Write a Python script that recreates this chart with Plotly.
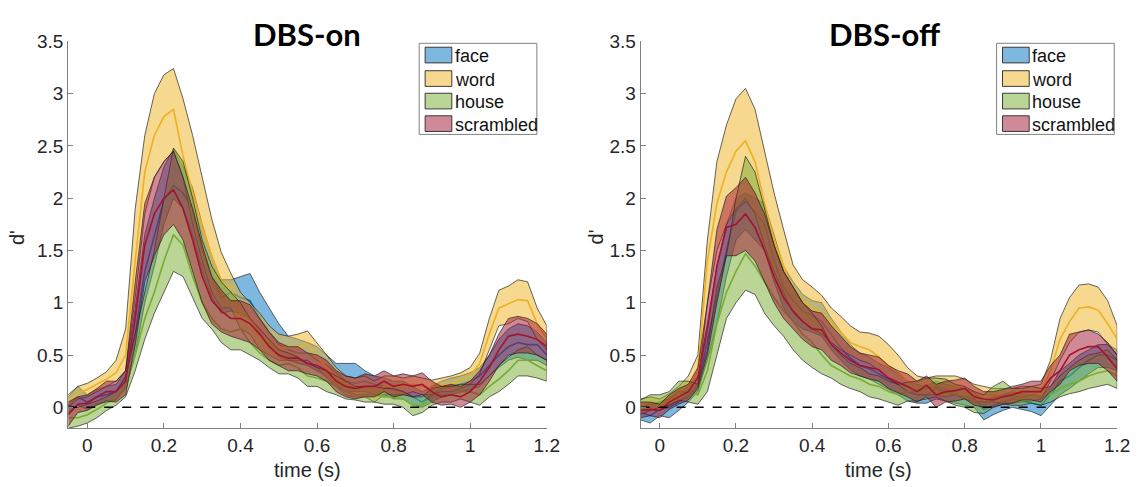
import plotly.graph_objects as go

# ---------------- data ----------------
time_s = [-0.05, -0.025, 0.0, 0.025, 0.05, 0.075, 0.1, 0.125, 0.15, 0.175,
          0.2, 0.225, 0.25, 0.275, 0.3, 0.325, 0.35, 0.375, 0.4, 0.425,
          0.45, 0.475, 0.5, 0.525, 0.55, 0.575, 0.6, 0.625, 0.65, 0.675,
          0.7, 0.725, 0.75, 0.775, 0.8, 0.825, 0.85, 0.875, 0.9, 0.925,
          0.95, 0.975, 1.0, 1.025, 1.05, 1.075, 1.1, 1.125, 1.15, 1.175, 1.2]

categories = ["face", "word", "house", "scrambled"]
panel_titles = ["DBS-on", "DBS-off"]
x_tick_vals = [0, 0.2, 0.4, 0.6, 0.8, 1.0, 1.2]
x_tick_text = ["0", "0.2", "0.4", "0.6", "0.8", "1", "1.2"]
y_tick_vals = [0, 0.5, 1, 1.5, 2, 2.5, 3, 3.5]
y_tick_text = ["0", "0.5", "1", "1.5", "2", "2.5", "3", "3.5"]

# ---- DBS-on ----
on_face_mean = [0.02, 0.1, 0.05, 0.1, 0.12, 0.15, 0.28, 0.7, 1.3, 1.65, 1.98, 2.12, 2.05, 1.9, 1.5, 1.25, 1.05, 1.1, 1.05, 1.02,
                0.85, 0.72, 0.6, 0.55, 0.52, 0.52, 0.45, 0.4, 0.33, 0.25, 0.23, 0.25, 0.22, 0.2, 0.17, 0.15, 0.1, 0.05, 0.12, 0.18,
                0.2, 0.22, 0.25, 0.3, 0.4, 0.5, 0.58, 0.62, 0.6, 0.6, 0.5]
on_face_lo = [-0.05, 0.02, -0.02, 0.03, 0.05, 0.07, 0.18, 0.5, 1.0, 1.35, 1.75, 2.0, 1.9, 1.65, 1.3, 1.05, 0.9, 0.92, 0.9, 0.85,
              0.7, 0.58, 0.48, 0.45, 0.42, 0.4, 0.35, 0.3, 0.22, 0.15, 0.15, 0.15, 0.12, 0.12, 0.08, 0.08, 0.02, 0.0, 0.05, 0.1,
              0.12, 0.15, 0.17, 0.2, 0.3, 0.38, 0.45, 0.48, 0.45, 0.45, 0.4]
on_face_hi = [0.1, 0.2, 0.12, 0.17, 0.2, 0.22, 0.35, 0.95, 1.65, 2.0, 2.3, 2.47, 2.3, 2.1, 1.75, 1.45, 1.22, 1.22, 1.25, 1.28,
              1.1, 0.95, 0.8, 0.68, 0.65, 0.62, 0.58, 0.5, 0.42, 0.42, 0.42, 0.35, 0.3, 0.28, 0.25, 0.25, 0.2, 0.15, 0.2, 0.25,
              0.28, 0.3, 0.33, 0.38, 0.5, 0.65, 0.75, 0.8, 0.78, 0.72, 0.62]

on_word_mean = [0.05, 0.14, 0.17, 0.22, 0.27, 0.33, 0.5, 1.4, 2.25, 2.6, 2.78, 2.85, 2.4, 2.05, 1.72, 1.45, 1.2, 1.15, 0.88, 0.85,
                0.7, 0.62, 0.57, 0.57, 0.57, 0.6, 0.48, 0.38, 0.3, 0.22, 0.18, 0.2, 0.15, 0.2, 0.22, 0.2, 0.22, 0.2, 0.18, 0.22,
                0.22, 0.26, 0.3, 0.42, 0.7, 0.95, 0.99, 1.03, 1.02, 0.8, 0.66]
on_word_lo = [0.0, 0.08, 0.1, 0.15, 0.2, 0.25, 0.35, 1.05, 1.85, 2.2, 2.35, 2.45, 2.2, 1.75, 1.4, 1.1, 0.95, 0.95, 0.75, 0.7,
              0.55, 0.5, 0.45, 0.45, 0.45, 0.45, 0.38, 0.28, 0.2, 0.12, 0.1, 0.1, 0.05, 0.12, 0.12, 0.12, 0.15, 0.12, 0.12, 0.15,
              0.15, 0.18, 0.22, 0.32, 0.55, 0.78, 0.8, 0.85, 0.82, 0.65, 0.55]
on_word_hi = [0.12, 0.2, 0.23, 0.28, 0.34, 0.45, 0.75, 1.9, 2.6, 3.0, 3.18, 3.24, 2.95, 2.6, 2.2, 1.8, 1.48, 1.28, 1.1, 1.0,
              0.9, 0.78, 0.7, 0.68, 0.7, 0.73, 0.62, 0.5, 0.38, 0.3, 0.28, 0.3, 0.25, 0.3, 0.3, 0.28, 0.3, 0.28, 0.26, 0.28,
              0.3, 0.33, 0.38, 0.52, 0.85, 1.12, 1.16, 1.22, 1.2, 0.95, 0.78]

on_house_mean = [-0.1, -0.1, -0.07, -0.02, 0.04, 0.08, 0.2, 0.5, 0.85, 1.1, 1.4, 1.65, 1.55, 1.25, 1.0, 0.85, 0.75, 0.72, 0.75, 0.62,
                 0.52, 0.45, 0.4, 0.42, 0.38, 0.3, 0.28, 0.25, 0.2, 0.15, 0.12, 0.12, 0.12, 0.1, 0.1, 0.08, 0.02, 0.02, 0.1, 0.12,
                 0.12, 0.15, 0.15, 0.12, 0.2, 0.27, 0.35, 0.45, 0.45, 0.4, 0.35]
on_house_lo = [-0.2, -0.18, -0.15, -0.1, -0.03, 0.02, 0.1, 0.35, 0.65, 0.9, 1.1, 1.3, 1.25, 1.05, 0.85, 0.75, 0.62, 0.55, 0.55, 0.5,
               0.45, 0.38, 0.32, 0.32, 0.28, 0.2, 0.2, 0.15, 0.12, 0.08, 0.07, 0.05, 0.05, 0.03, 0.03, 0.0, -0.08, -0.05, 0.02, 0.05,
               0.05, 0.08, 0.05, 0.02, 0.1, 0.15, 0.22, 0.3, 0.3, 0.28, 0.25]
on_house_hi = [0.02, 0.0, 0.03, 0.06, 0.1, 0.15, 0.3, 0.7, 1.1, 1.5, 2.0, 2.48, 2.35, 2.0, 1.6, 1.35, 1.2, 1.1, 1.0, 0.85,
               0.75, 0.65, 0.55, 0.52, 0.48, 0.42, 0.38, 0.35, 0.3, 0.25, 0.2, 0.2, 0.2, 0.18, 0.18, 0.15, 0.1, 0.1, 0.18, 0.2,
               0.2, 0.22, 0.22, 0.22, 0.3, 0.4, 0.48, 0.55, 0.58, 0.5, 0.45]

on_scr_mean = [-0.07, 0.03, 0.04, 0.1, 0.15, 0.15, 0.25, 0.85, 1.55, 1.85, 2.0, 2.08, 1.9, 1.6, 1.25, 1.02, 0.92, 0.85, 0.85, 0.8,
               0.7, 0.58, 0.5, 0.47, 0.47, 0.42, 0.4, 0.35, 0.25, 0.2, 0.18, 0.2, 0.2, 0.25, 0.2, 0.22, 0.2, 0.22, 0.15, 0.1,
               0.12, 0.1, 0.15, 0.25, 0.38, 0.55, 0.68, 0.7, 0.68, 0.65, 0.58]
on_scr_lo = [-0.18, -0.05, -0.03, 0.02, 0.06, 0.05, 0.12, 0.6, 1.2, 1.45, 1.65, 1.75, 1.6, 1.3, 1.0, 0.8, 0.72, 0.68, 0.65, 0.62,
             0.55, 0.45, 0.4, 0.35, 0.35, 0.32, 0.3, 0.25, 0.15, 0.1, 0.08, 0.1, 0.1, 0.15, 0.1, 0.12, 0.1, 0.12, 0.05, 0.02,
             0.03, 0.0, 0.05, 0.12, 0.25, 0.4, 0.5, 0.52, 0.52, 0.5, 0.45]
on_scr_hi = [0.05, 0.1, 0.12, 0.18, 0.25, 0.25, 0.35, 1.2, 1.95, 2.2, 2.35, 2.45, 2.2, 1.9, 1.55, 1.25, 1.12, 1.02, 1.02, 0.98,
             0.85, 0.72, 0.62, 0.58, 0.58, 0.52, 0.5, 0.45, 0.35, 0.3, 0.28, 0.32, 0.3, 0.35, 0.3, 0.32, 0.3, 0.33, 0.25, 0.2,
             0.22, 0.2, 0.25, 0.35, 0.5, 0.7, 0.85, 0.87, 0.85, 0.8, 0.7]

# ---- DBS-off ----
off_face_mean = [-0.05, -0.08, -0.02, 0.0, 0.05, 0.12, 0.22, 0.62, 1.05, 1.5, 1.88, 1.97, 1.87, 1.75, 1.4, 1.15, 1.02, 0.92, 0.88, 0.82,
                 0.7, 0.57, 0.47, 0.4, 0.37, 0.32, 0.27, 0.22, 0.15, 0.12, 0.12, 0.18, 0.15, 0.12, 0.1, 0.08, -0.02, 0.02, 0.05, 0.08,
                 0.06, 0.04, 0.02, 0.12, 0.25, 0.3, 0.38, 0.45, 0.5, 0.5, 0.45]
off_face_lo = [-0.12, -0.15, -0.08, -0.1, -0.03, 0.05, 0.15, 0.45, 0.8, 1.25, 1.6, 1.7, 1.6, 1.5, 1.2, 0.95, 0.82, 0.75, 0.72, 0.68,
               0.55, 0.45, 0.36, 0.3, 0.27, 0.22, 0.17, 0.12, 0.06, 0.04, 0.04, 0.08, 0.06, 0.04, 0.02, 0.0, -0.12, -0.07, -0.03, 0.0,
               -0.02, -0.04, -0.08, 0.02, 0.12, 0.18, 0.25, 0.32, 0.38, 0.38, 0.35]
off_face_hi = [0.02, 0.0, 0.05, 0.08, 0.12, 0.2, 0.3, 0.8, 1.35, 1.75, 2.0, 2.05, 2.0, 1.95, 1.65, 1.35, 1.2, 1.08, 1.02, 1.0,
               0.85, 0.72, 0.6, 0.52, 0.48, 0.42, 0.38, 0.32, 0.25, 0.22, 0.2, 0.25, 0.22, 0.2, 0.18, 0.15, 0.05, 0.1, 0.12, 0.15,
               0.13, 0.12, 0.1, 0.2, 0.35, 0.42, 0.5, 0.55, 0.6, 0.6, 0.55]

off_word_mean = [0.02, 0.03, 0.02, 0.07, 0.12, 0.18, 0.35, 1.4, 1.95, 2.25, 2.45, 2.55, 2.35, 1.95, 1.6, 1.35, 1.12, 1.02, 0.95, 0.9,
                 0.8, 0.72, 0.62, 0.58, 0.55, 0.48, 0.4, 0.33, 0.25, 0.2, 0.2, 0.2, 0.18, 0.2, 0.15, 0.12, 0.12, 0.12, 0.1, 0.1,
                 0.12, 0.12, 0.15, 0.35, 0.65, 0.82, 0.95, 0.96, 0.93, 0.8, 0.65]
off_word_lo = [-0.03, -0.02, -0.03, 0.02, 0.06, 0.1, 0.2, 1.0, 1.5, 1.75, 1.9, 2.0, 1.85, 1.55, 1.3, 1.1, 0.9, 0.82, 0.75, 0.7,
               0.62, 0.55, 0.5, 0.45, 0.42, 0.35, 0.28, 0.22, 0.15, 0.12, 0.12, 0.12, 0.1, 0.12, 0.08, 0.05, 0.05, 0.05, 0.04, 0.04,
               0.05, 0.06, 0.08, 0.25, 0.45, 0.62, 0.72, 0.74, 0.72, 0.6, 0.5]
off_word_hi = [0.08, 0.1, 0.08, 0.13, 0.2, 0.3, 0.5, 1.6, 2.35, 2.7, 2.95, 3.05, 2.85, 2.45, 2.05, 1.7, 1.36, 1.22, 1.15, 1.07,
               0.95, 0.87, 0.78, 0.72, 0.71, 0.68, 0.6, 0.5, 0.38, 0.3, 0.28, 0.3, 0.3, 0.3, 0.27, 0.22, 0.2, 0.18, 0.18, 0.18,
               0.2, 0.2, 0.22, 0.45, 0.85, 1.05, 1.17, 1.18, 1.15, 1.02, 0.78]

off_house_mean = [0.0, 0.03, 0.05, 0.08, 0.15, 0.15, 0.12, 0.35, 0.8, 1.1, 1.3, 1.47, 1.35, 1.2, 1.05, 0.92, 0.82, 0.7, 0.62, 0.5,
                  0.4, 0.35, 0.3, 0.27, 0.22, 0.2, 0.15, 0.12, 0.15, 0.15, 0.18, 0.2, 0.18, 0.12, 0.1, 0.05, 0.02, 0.08, 0.12, 0.1,
                  0.1, 0.12, 0.1, 0.12, 0.18, 0.22, 0.25, 0.3, 0.33, 0.35, 0.3]
off_house_lo = [-0.07, -0.03, 0.0, 0.02, 0.07, 0.05, 0.03, 0.15, 0.5, 0.85, 1.0, 1.12, 1.08, 0.9, 0.78, 0.68, 0.55, 0.45, 0.38, 0.32,
                0.28, 0.22, 0.18, 0.15, 0.1, 0.08, 0.05, 0.02, 0.06, 0.06, 0.08, 0.1, 0.06, 0.02, 0.0, -0.05, -0.06, 0.0, 0.03, 0.02,
                0.02, 0.04, 0.02, 0.05, 0.1, 0.13, 0.15, 0.18, 0.2, 0.22, 0.18]
off_house_hi = [0.07, 0.12, 0.12, 0.15, 0.25, 0.25, 0.22, 0.55, 1.15, 1.45, 2.0, 2.4, 2.25, 1.9, 1.55, 1.3, 1.15, 1.0, 0.9, 0.78,
                0.6, 0.5, 0.42, 0.38, 0.32, 0.3, 0.25, 0.22, 0.24, 0.25, 0.28, 0.28, 0.27, 0.22, 0.2, 0.15, 0.12, 0.2, 0.25, 0.18,
                0.18, 0.2, 0.18, 0.2, 0.3, 0.38, 0.45, 0.5, 0.52, 0.55, 0.45]

off_scr_mean = [-0.03, -0.02, -0.03, 0.05, 0.1, 0.15, 0.28, 0.75, 1.35, 1.72, 1.75, 1.85, 1.72, 1.5, 1.25, 1.05, 0.92, 0.82, 0.75, 0.74,
                0.6, 0.52, 0.45, 0.4, 0.38, 0.36, 0.28, 0.24, 0.2, 0.15, 0.21, 0.12, 0.15, 0.16, 0.18, 0.1, 0.08, 0.07, 0.1, 0.12,
                0.15, 0.15, 0.15, 0.28, 0.35, 0.5, 0.55, 0.58, 0.58, 0.48, 0.37]
off_scr_lo = [-0.1, -0.08, -0.1, -0.02, 0.03, 0.07, 0.18, 0.5, 1.0, 1.45, 1.45, 1.5, 1.4, 1.2, 1.0, 0.85, 0.75, 0.65, 0.58, 0.55,
              0.45, 0.4, 0.33, 0.3, 0.27, 0.25, 0.18, 0.14, 0.1, 0.05, 0.1, 0.0, 0.05, 0.06, 0.08, 0.02, 0.0, 0.0, 0.03, 0.04,
              0.07, 0.07, 0.05, 0.15, 0.22, 0.35, 0.4, 0.42, 0.42, 0.35, 0.25]
off_scr_hi = [0.05, 0.05, 0.03, 0.12, 0.18, 0.22, 0.38, 1.0, 1.7, 2.02, 2.1, 2.2, 2.05, 1.85, 1.55, 1.3, 1.15, 1.0, 0.92, 0.9,
              0.78, 0.68, 0.58, 0.52, 0.5, 0.48, 0.4, 0.35, 0.32, 0.25, 0.3, 0.22, 0.25, 0.26, 0.28, 0.2, 0.15, 0.15, 0.17, 0.2,
              0.22, 0.25, 0.25, 0.4, 0.5, 0.7, 0.72, 0.74, 0.7, 0.62, 0.5]

panels = [
    {"face": (on_face_mean, on_face_lo, on_face_hi),
     "word": (on_word_mean, on_word_lo, on_word_hi),
     "house": (on_house_mean, on_house_lo, on_house_hi),
     "scrambled": (on_scr_mean, on_scr_lo, on_scr_hi)},
    {"face": (off_face_mean, off_face_lo, off_face_hi),
     "word": (off_word_mean, off_word_lo, off_word_hi),
     "house": (off_house_mean, off_house_lo, off_house_hi),
     "scrambled": (off_scr_mean, off_scr_lo, off_scr_hi)},
]

# ---------------- style ----------------
rgb = {"face": (0, 114, 189), "word": (237, 177, 32),
       "house": (119, 172, 48), "scrambled": (162, 20, 47)}
FONT = "Liberation Sans, Arial, sans-serif"
W, H = 1148, 487
x_dom = [(69 / W, 553 / W), (648 / W, 1130 / W)]
y_dom = (60 / H, 455 / H)

fig = go.Figure()
for p, data in enumerate(panels):
    xa = "x" if p == 0 else "x2"
    ya = "y" if p == 0 else "y2"
    for name in categories:
        mean, lo, hi = data[name]
        r, g, b = rgb[name]
        fig.add_trace(go.Scatter(
            x=time_s + time_s[::-1], y=hi + lo[::-1],
            fill="toself", fillcolor=f"rgba({r},{g},{b},0.5)",
            line=dict(color="rgba(30,30,30,0.85)", width=0.8),
            mode="lines", name=name, showlegend=False, xaxis=xa, yaxis=ya,
            hoverinfo="skip"))
        fig.add_trace(go.Scatter(
            x=time_s, y=mean, mode="lines",
            line=dict(color=f"rgb({r},{g},{b})", width=1.6),
            showlegend=False, xaxis=xa, yaxis=ya))
    fig.add_trace(go.Scatter(
        x=[time_s[0], time_s[-1]], y=[0, 0], mode="lines",
        line=dict(color="black", width=1.5, dash="dash"),
        showlegend=False, xaxis=xa, yaxis=ya))

axis_common = dict(showline=True, linecolor="#808080", linewidth=1,
                   ticks="inside", ticklen=5, tickcolor="#808080",
                   showgrid=False, zeroline=False, mirror=False,
                   tickfont=dict(family=FONT, size=19, color="#262626"))

layout = dict(
    width=W, height=H, margin=dict(l=0, r=0, t=0, b=0),
    plot_bgcolor="white", paper_bgcolor="white", showlegend=False,
)
for p in range(2):
    sfx = "" if p == 0 else "2"
    layout["xaxis" + sfx] = dict(domain=list(x_dom[p]), range=[-0.05, 1.2],
                                 tickvals=x_tick_vals, ticktext=x_tick_text,
                                 anchor="y" + sfx, **axis_common)
    layout["yaxis" + sfx] = dict(domain=list(y_dom), range=[-0.2, 3.5],
                                 tickvals=y_tick_vals, ticktext=y_tick_text,
                                 anchor="x" + sfx, **axis_common)
fig.update_layout(**layout)

# ---------------- titles, axis labels, legends ----------------
annotations = []
shapes = []
centers = [(69 + 553) / 2, (648 + 1130) / 2]
title_x = [311, 895]
ylab_x = [17, 603]
legend_left = [424, 1008]
legend_w = 119
legend_top, legend_bottom = 34, 127
row_y = [46, 70, 93, 116]


def px(x):
    return x / W


def py(y):
    return (H - y) / H


for p in range(2):
    annotations.append(dict(text=f"<b>{panel_titles[p]}</b>", x=px(title_x[p]), y=py(24),
                            xref="paper", yref="paper", showarrow=False,
                            xanchor="center", yanchor="middle",
                            font=dict(family="Lato, Open Sans, sans-serif", size=31, color="black")))
    annotations.append(dict(text="time (s)", x=px(centers[p]), y=py(470),
                            xref="paper", yref="paper", showarrow=False,
                            xanchor="center", yanchor="middle",
                            font=dict(family=FONT, size=20, color="#262626")))
    annotations.append(dict(text="d'", x=px(ylab_x[p]), y=py(232),
                            xref="paper", yref="paper", showarrow=False, textangle=-90,
                            xanchor="center", yanchor="middle",
                            font=dict(family=FONT, size=20, color="#262626")))
    # legend box
    lx = legend_left[p]
    shapes.append(dict(type="rect", xref="paper", yref="paper",
                       x0=px(lx), x1=px(lx + legend_w), y0=py(legend_bottom), y1=py(legend_top),
                       line=dict(color="#808080", width=1), fillcolor="white", layer="above"))
    for i, name in enumerate(categories):
        r, g, b = rgb[name]
        cy = row_y[i]
        shapes.append(dict(type="rect", xref="paper", yref="paper",
                           x0=px(lx + 6), x1=px(lx + 33), y0=py(cy + 8), y1=py(cy - 8),
                           line=dict(color="rgba(40,40,40,0.9)", width=1),
                           fillcolor=f"rgba({r},{g},{b},0.5)", layer="above"))
        annotations.append(dict(text=name, x=px(lx + 34), y=py(cy + 1),
                                xref="paper", yref="paper", showarrow=False,
                                xanchor="left", yanchor="middle",
                                font=dict(family=FONT, size=18, color="#111111")))

fig.update_layout(annotations=annotations, shapes=shapes)

fig.write_html("out.html")
